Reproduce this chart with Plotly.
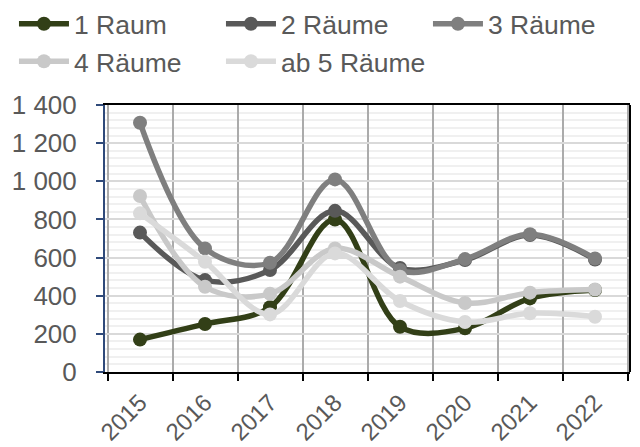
import plotly.graph_objects as go

years = ["2015", "2016", "2017", "2018", "2019", "2020", "2021", "2022"]
raum1 = [170, 252, 340, 800, 237, 229, 386, 430]
raum2 = [731, 482, 535, 845, 545, 587, 718, 590]
raum3 = [1307, 648, 573, 1010, 535, 592, 722, 595]
raum4 = [923, 447, 410, 648, 500, 362, 416, 432]
raum5 = [832, 578, 302, 622, 372, 262, 308, 290]

names = ["1 Raum", "2 Räume", "3 Räume", "4 Räume", "ab 5 Räume"]
series = [raum1, raum2, raum3, raum4, raum5]
colors = ["#323f17", "#595959", "#7f7f7f", "#c9c9c9", "#dadada"]

fig = go.Figure()
for n, s, c in zip(names, series, colors):
    fig.add_trace(go.Scatter(
        x=years, y=s, name=n, mode="lines+markers",
        line=dict(color=c, width=5.5, shape="spline", smoothing=1.0),
        marker=dict(color=c, size=14),
    ))

font_family = "Liberation Sans, Arial, sans-serif"
fig.update_layout(
    width=640, height=447,
    margin=dict(l=105, r=10, t=105, b=75, autoexpand=False),
    paper_bgcolor="white", plot_bgcolor="white",
    separators=", ",
    font=dict(family=font_family, size=26, color="#595959"),
    showlegend=True,
    legend=dict(
        orientation="h", xref="paper", yref="paper",
        x=-0.1734, y=1.393, xanchor="left", yanchor="top",
        entrywidth=142, entrywidthmode="pixels", itemwidth=50,
        font=dict(size=26.5, color="#595959"), bgcolor="rgba(0,0,0,0)",
    ),
    xaxis=dict(
        type="category", tickson="boundaries", tickangle=-45, automargin=False,
        showgrid=True, gridcolor="#ababab", gridwidth=2,
        showline=True, linecolor="black", linewidth=2, mirror=True,
        ticks="outside", ticklen=7, tickcolor="black", tickwidth=2,
        ticklabelstandoff=5,
        tickfont=dict(size=24, color="#595959"),
    ),
    yaxis=dict(
        range=[0, 1400], dtick=200, tickformat=",d", automargin=False,
        showgrid=True, gridcolor="#d9d9d9", gridwidth=1.5,
        minor=dict(dtick=40, showgrid=True, gridcolor="#f0f0f0", gridwidth=1.5),
        showline=True, linecolor="#2f4a7a", linewidth=2,
        ticks="outside", ticklen=7, tickcolor="#2f4a7a", tickwidth=2,
        ticklabelstandoff=14,
        tickfont=dict(size=26, color="#595959"), zeroline=False,
    ),
    shapes=[dict(type="line", xref="paper", yref="paper", x0=1, x1=1, y0=0, y1=1,
                 line=dict(color="black", width=2))],
)

fig.write_html("out.html", config={"displayModeBar": False},
               post_script="document.body.style.margin='0';document.body.style.overflow='hidden';")
